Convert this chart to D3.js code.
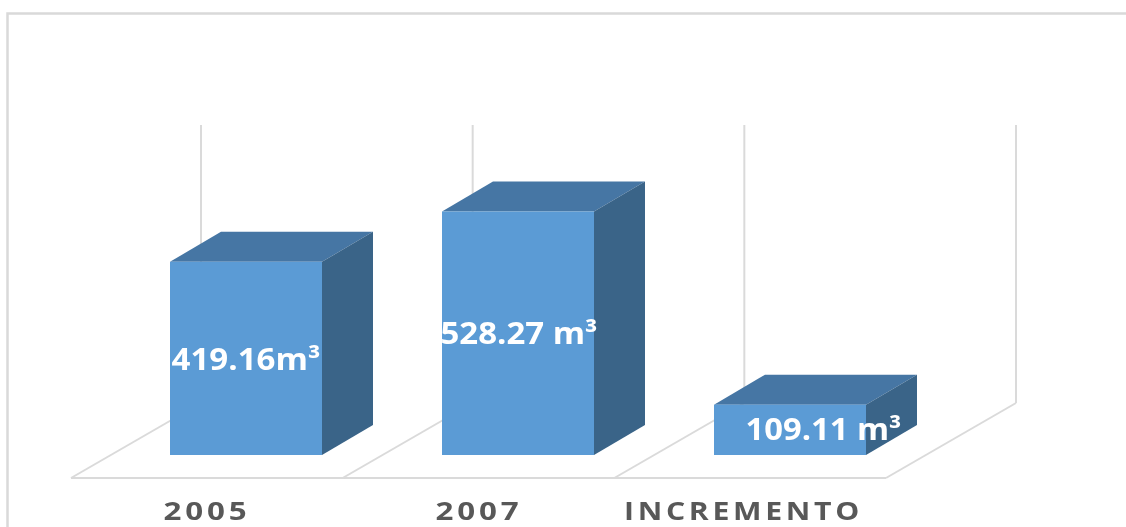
<!DOCTYPE html>
<html>
<head>
<meta charset="utf-8">
<script src="https://cdn.jsdelivr.net/npm/d3@7"></script>
<style>
html,body{margin:0;padding:0;background:#fff;overflow:hidden}
svg{display:block}
text{font-family:"Open Sans",sans-serif}
</style>
</head>
<body>
<svg id="c" width="1126" height="527">
  <defs><filter id="soft" x="-5%" y="-20%" width="110%" height="140%"><feGaussianBlur stdDeviation="0.45"/></filter></defs>
</svg>
<script>
const categories = ["2005", "2007", "INCREMENTO"];
const values = [419.16, 528.27, 109.11];
const valueLabels = ["419.16m³", "528.27 m³", "109.11 m³"];

const svg = d3.select("#c");
const depthX = 51, depthY = 30, floorDX = 130, floorDY = 75;
const floorY = 478, baseY = 455, wallTop = 125;

const floorX = d3.scalePoint().domain([0, 1, 2, 3]).range([71, 886]);
const barX = d3.scaleBand().domain(categories).range([170, 986]).paddingInner(0).paddingOuter(0);
const barW = 152;
const y = d3.scaleLinear().domain([0, 528.27]).range([baseY, 211.5]);

// outer frame
svg.append("path").attr("d", "M7.5,1000V13.5H1126").attr("fill", "none").attr("stroke", "#d9d9d9").attr("stroke-width", 2.5);

// floor and wall
const g = svg.append("g").attr("fill", "none").attr("stroke", "#dadada").attr("stroke-width", 2);
g.append("line").attr("x1", floorX(0)).attr("x2", floorX(3)).attr("y1", floorY).attr("y2", floorY);
floorX.domain().forEach(i => {
  const fx = floorX(i);
  g.append("line").attr("x1", fx).attr("y1", floorY).attr("x2", fx + floorDX).attr("y2", floorY - floorDY);
  g.append("line").attr("x1", fx + floorDX).attr("y1", floorY - floorDY).attr("x2", fx + floorDX).attr("y2", wallTop);
});

// bars
const bars = svg.selectAll("g.bar").data(categories.map((c, i) => ({c, v: values[i], l: valueLabels[i]}))).join("g").attr("class", "bar");
bars.append("path").attr("fill", "#4676a4").attr("d", d => {
  const x0 = barX(d.c), t = y(d.v);
  return `M${x0},${t}L${x0 + depthX},${t - depthY}H${x0 + barW + depthX}L${x0 + barW},${t}Z`;
});
bars.append("path").attr("fill", "#3a6488").attr("d", d => {
  const x1 = barX(d.c) + barW, t = y(d.v);
  return `M${x1},${t}L${x1 + depthX},${t - depthY}V${baseY - depthY}L${x1},${baseY}Z`;
});
bars.append("rect").attr("x", d => barX(d.c)).attr("y", d => y(d.v)).attr("width", barW).attr("height", d => baseY - y(d.v)).attr("fill", "#5b9bd5");

// value labels
const labelCx = [246, 519, 823.5], labelBase = [370, 344, 440], labelW = [149, 157, 156];
bars.append("text").text(d => d.l)
  .attr("x", (d, i) => labelCx[i]).attr("y", (d, i) => labelBase[i])
  .attr("text-anchor", "middle").attr("fill", "#fff").attr("font-weight", 700).attr("font-size", 29.5)
  .attr("textLength", (d, i) => labelW[i]).attr("lengthAdjust", "spacingAndGlyphs")
  .attr("filter", "url(#soft)");

// category labels
const catCx = [207, 479, 743.5], catW = [87, 87, 239];
svg.selectAll("text.cat").data(categories).join("text").attr("class", "cat").text(d => d)
  .attr("x", (d, i) => catCx[i]).attr("y", 520)
  .attr("text-anchor", "middle").attr("fill", "#595959").attr("font-weight", 700)
  .attr("font-size", 24.5).attr("letter-spacing", 3)
  .attr("textLength", (d, i) => catW[i]).attr("lengthAdjust", "spacingAndGlyphs")
  .attr("filter", "url(#soft)");
</script>
</body>
</html>
